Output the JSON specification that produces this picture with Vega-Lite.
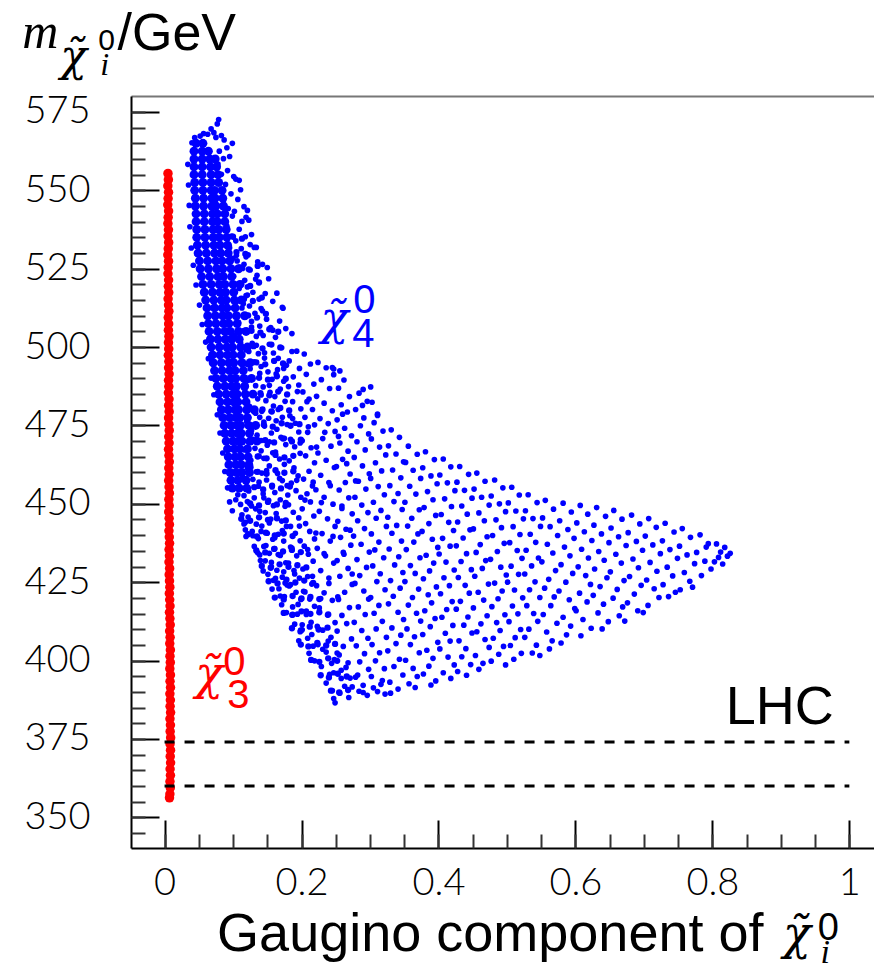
{
"$schema":"https://vega.github.io/schema/vega-lite/v6.json",
"width":743,"height":752,
"autosize":{"type":"none"},
"padding":{"left":131,"top":96,"right":0,"bottom":122},
"background":"white",
"config":{"view":{"stroke":null},"axis":{"grid":false}},
"datasets":{
"core":[
{"x":0.046,"y":565},{"x":0.056,"y":565},
{"x":0.043,"y":562.5},{"x":0.055,"y":562.5},{"x":0.064,"y":562.5},
{"x":0.043,"y":560},{"x":0.055,"y":560},{"x":0.066,"y":560},{"x":0.074,"y":560},
{"x":0.043,"y":557.5},{"x":0.055,"y":557.5},{"x":0.067,"y":557.5},{"x":0.076,"y":557.5},
{"x":0.043,"y":555},{"x":0.055,"y":555},{"x":0.068,"y":555},{"x":0.078,"y":555},
{"x":0.044,"y":552.5},{"x":0.056,"y":552.5},{"x":0.068,"y":552.5},{"x":0.079,"y":552.5},
{"x":0.044,"y":550},{"x":0.056,"y":550},{"x":0.068,"y":550},{"x":0.073,"y":550},{"x":0.084,"y":550},
{"x":0.045,"y":547.5},{"x":0.057,"y":547.5},{"x":0.069,"y":547.5},{"x":0.074,"y":547.5},{"x":0.085,"y":547.5},
{"x":0.045,"y":545},{"x":0.057,"y":545},{"x":0.069,"y":545},{"x":0.075,"y":545},{"x":0.086,"y":545},
{"x":0.046,"y":542.5},{"x":0.058,"y":542.5},{"x":0.07,"y":542.5},{"x":0.077,"y":542.5},{"x":0.088,"y":542.5},
{"x":0.046,"y":540},{"x":0.058,"y":540},{"x":0.07,"y":540},{"x":0.077,"y":540},{"x":0.088,"y":540},
{"x":0.047,"y":537.5},{"x":0.059,"y":537.5},{"x":0.071,"y":537.5},{"x":0.079,"y":537.5},{"x":0.09,"y":537.5},
{"x":0.047,"y":535},{"x":0.059,"y":535},{"x":0.071,"y":535},{"x":0.08,"y":535},{"x":0.091,"y":535},
{"x":0.048,"y":532.5},{"x":0.06,"y":532.5},{"x":0.072,"y":532.5},{"x":0.081,"y":532.5},{"x":0.092,"y":532.5},
{"x":0.049,"y":530},{"x":0.061,"y":530},{"x":0.073,"y":530},{"x":0.082,"y":530},{"x":0.093,"y":530},
{"x":0.051,"y":527.5},{"x":0.063,"y":527.5},{"x":0.075,"y":527.5},{"x":0.084,"y":527.5},{"x":0.095,"y":527.5},
{"x":0.052,"y":525},{"x":0.064,"y":525},{"x":0.076,"y":525},{"x":0.085,"y":525},{"x":0.097,"y":525},{"x":0.108,"y":525},
{"x":0.054,"y":522.5},{"x":0.066,"y":522.5},{"x":0.078,"y":522.5},{"x":0.086,"y":522.5},{"x":0.098,"y":522.5},
{"x":0.056,"y":520},{"x":0.068,"y":520},{"x":0.08,"y":520},{"x":0.088,"y":520},{"x":0.1,"y":520},{"x":0.11,"y":520},
{"x":0.058,"y":517.5},{"x":0.07,"y":517.5},{"x":0.081,"y":517.5},{"x":0.089,"y":517.5},{"x":0.101,"y":517.5},
{"x":0.06,"y":515},{"x":0.072,"y":515},{"x":0.083,"y":515},{"x":0.09,"y":515},{"x":0.102,"y":515},{"x":0.112,"y":515},
{"x":0.062,"y":512.5},{"x":0.073,"y":512.5},{"x":0.084,"y":512.5},{"x":0.091,"y":512.5},{"x":0.103,"y":512.5},
{"x":0.063,"y":510},{"x":0.074,"y":510},{"x":0.085,"y":510},{"x":0.093,"y":510},{"x":0.105,"y":510},{"x":0.117,"y":510},
{"x":0.064,"y":507.5},{"x":0.075,"y":507.5},{"x":0.086,"y":507.5},{"x":0.094,"y":507.5},{"x":0.106,"y":507.5},
{"x":0.065,"y":505},{"x":0.077,"y":505},{"x":0.088,"y":505},{"x":0.096,"y":505},{"x":0.108,"y":505},{"x":0.119,"y":505},
{"x":0.067,"y":502.5},{"x":0.078,"y":502.5},{"x":0.089,"y":502.5},{"x":0.098,"y":502.5},{"x":0.109,"y":502.5},
{"x":0.068,"y":500},{"x":0.08,"y":500},{"x":0.091,"y":500},{"x":0.099,"y":500},{"x":0.111,"y":500},{"x":0.121,"y":500},
{"x":0.07,"y":497.5},{"x":0.081,"y":497.5},{"x":0.092,"y":497.5},{"x":0.1,"y":497.5},{"x":0.112,"y":497.5},
{"x":0.071,"y":495},{"x":0.083,"y":495},{"x":0.094,"y":495},{"x":0.101,"y":495},{"x":0.113,"y":495},{"x":0.125,"y":495},
{"x":0.073,"y":492.5},{"x":0.084,"y":492.5},{"x":0.095,"y":492.5},{"x":0.103,"y":492.5},{"x":0.115,"y":492.5},
{"x":0.075,"y":490},{"x":0.086,"y":490},{"x":0.097,"y":490},{"x":0.104,"y":490},{"x":0.116,"y":490},{"x":0.127,"y":490},
{"x":0.077,"y":487.5},{"x":0.088,"y":487.5},{"x":0.098,"y":487.5},{"x":0.105,"y":487.5},{"x":0.117,"y":487.5},
{"x":0.079,"y":485},{"x":0.09,"y":485},{"x":0.1,"y":485},{"x":0.106,"y":485},{"x":0.118,"y":485},{"x":0.129,"y":485},
{"x":0.081,"y":482.5},{"x":0.092,"y":482.5},{"x":0.101,"y":482.5},{"x":0.107,"y":482.5},{"x":0.119,"y":482.5},
{"x":0.083,"y":480},{"x":0.093,"y":480},{"x":0.103,"y":480},{"x":0.108,"y":480},{"x":0.12,"y":480},{"x":0.131,"y":480},
{"x":0.085,"y":477.5},{"x":0.095,"y":477.5},{"x":0.104,"y":477.5},{"x":0.11,"y":477.5},{"x":0.121,"y":477.5},
{"x":0.087,"y":475},{"x":0.097,"y":475},{"x":0.106,"y":475},{"x":0.111,"y":475},{"x":0.123,"y":475},{"x":0.133,"y":475},
{"x":0.088,"y":472.5},{"x":0.098,"y":472.5},{"x":0.107,"y":472.5},{"x":0.112,"y":472.5},{"x":0.124,"y":472.5},
{"x":0.09,"y":470},{"x":0.1,"y":470},{"x":0.108,"y":470},{"x":0.113,"y":470},{"x":0.125,"y":470},{"x":0.135,"y":470},
{"x":0.092,"y":467.5},{"x":0.102,"y":467.5},{"x":0.11,"y":467.5},{"x":0.121,"y":467.5},
{"x":0.093,"y":465},{"x":0.103,"y":465},{"x":0.111,"y":465},{"x":0.122,"y":465},
{"x":0.094,"y":462.5},{"x":0.104,"y":462.5},{"x":0.112,"y":462.5},{"x":0.123,"y":462.5},
{"x":0.096,"y":460},{"x":0.105,"y":460},{"x":0.113,"y":460},{"x":0.124,"y":460},
{"x":0.097,"y":457.5},{"x":0.107,"y":457.5},{"x":0.119,"y":457.5},
{"x":0.099,"y":455},{"x":0.109,"y":455},{"x":0.12,"y":455}
],
"mid":[
{"x":0.1,"y":535.2},{"x":0.113,"y":534.6},
{"x":0.105,"y":530.3},{"x":0.118,"y":529.7},
{"x":0.11,"y":525.4},{"x":0.123,"y":524.8},{"x":0.136,"y":525.9},
{"x":0.112,"y":520.2},{"x":0.125,"y":519.5},{"x":0.138,"y":520.6},
{"x":0.116,"y":515.3},{"x":0.129,"y":514.7},{"x":0.142,"y":515.8},
{"x":0.122,"y":510.1},{"x":0.135,"y":509.4},{"x":0.148,"y":510.6},
{"x":0.127,"y":505.2},{"x":0.14,"y":504.6},{"x":0.153,"y":505.7},{"x":0.166,"y":504.9},
{"x":0.13,"y":500.3},{"x":0.143,"y":499.6},{"x":0.156,"y":500.8},{"x":0.169,"y":499.9},
{"x":0.134,"y":495.1},{"x":0.147,"y":494.5},{"x":0.16,"y":495.6},{"x":0.173,"y":494.8},
{"x":0.138,"y":490.2},{"x":0.151,"y":489.6},{"x":0.164,"y":490.7},{"x":0.177,"y":489.9},
{"x":0.14,"y":485.3},{"x":0.153,"y":484.6},{"x":0.166,"y":485.8},{"x":0.179,"y":484.9},
{"x":0.143,"y":480.1},{"x":0.156,"y":479.5},{"x":0.169,"y":480.6},{"x":0.182,"y":479.8},
{"x":0.145,"y":475.2},{"x":0.158,"y":474.6},{"x":0.171,"y":475.7},{"x":0.184,"y":474.9},{"x":0.197,"y":475.4},
{"x":0.147,"y":470.3},{"x":0.16,"y":469.6},{"x":0.173,"y":470.8},{"x":0.186,"y":469.9},{"x":0.199,"y":470.5},
{"x":0.136,"y":465.1},{"x":0.149,"y":464.5},{"x":0.162,"y":465.6},{"x":0.175,"y":464.8},{"x":0.188,"y":465.3},
{"x":0.136,"y":460.2},{"x":0.149,"y":459.6},{"x":0.162,"y":460.7},{"x":0.175,"y":459.9},{"x":0.188,"y":460.4},
{"x":0.131,"y":455.3},{"x":0.144,"y":454.6},{"x":0.157,"y":455.8},{"x":0.17,"y":454.9},{"x":0.183,"y":455.5},
{"x":0.125,"y":450.1},{"x":0.138,"y":449.5},{"x":0.151,"y":450.6},{"x":0.164,"y":449.8},{"x":0.177,"y":450.3},
{"x":0.112,"y":445.2},{"x":0.125,"y":444.6},{"x":0.138,"y":445.7},{"x":0.151,"y":444.9},{"x":0.164,"y":445.4},{"x":0.177,"y":444.7},
{"x":0.122,"y":440.3},{"x":0.135,"y":439.6},{"x":0.148,"y":440.8},{"x":0.161,"y":439.9},{"x":0.174,"y":440.5},{"x":0.187,"y":439.7},
{"x":0.134,"y":435.1},{"x":0.147,"y":434.5},{"x":0.16,"y":435.6},{"x":0.173,"y":434.8},{"x":0.186,"y":435.3},{"x":0.199,"y":434.6},
{"x":0.142,"y":430.2},{"x":0.155,"y":429.6},{"x":0.168,"y":430.7},{"x":0.181,"y":429.9},{"x":0.194,"y":430.4},{"x":0.207,"y":429.7},
{"x":0.152,"y":425.3},{"x":0.165,"y":424.6},{"x":0.178,"y":425.8},{"x":0.191,"y":424.9},{"x":0.204,"y":425.5},{"x":0.217,"y":424.8},
{"x":0.161,"y":420.1},{"x":0.174,"y":419.5},{"x":0.187,"y":420.6},{"x":0.2,"y":419.8},{"x":0.213,"y":420.3},{"x":0.226,"y":419.6},
{"x":0.174,"y":415.2},{"x":0.187,"y":414.6},{"x":0.2,"y":415.7},{"x":0.213,"y":414.9},{"x":0.226,"y":415.4},{"x":0.239,"y":414.7},
{"x":0.186,"y":410.3},{"x":0.199,"y":409.6},{"x":0.212,"y":410.8},{"x":0.225,"y":409.9},{"x":0.238,"y":410.5},
{"x":0.199,"y":405.1},{"x":0.21,"y":404.5},{"x":0.223,"y":405.6},{"x":0.236,"y":404.8},{"x":0.249,"y":405.3},
{"x":0.214,"y":400.2},{"x":0.226,"y":399.6},{"x":0.239,"y":400.7},{"x":0.252,"y":399.9},
{"x":0.228,"y":395.3},{"x":0.24,"y":394.6},{"x":0.253,"y":395.8},{"x":0.266,"y":394.9},
{"x":0.243,"y":390.4},{"x":0.255,"y":389.8},{"x":0.268,"y":390.6}
],
"blue":[
{"x":0.034,"y":558.3},{"x":0.035,"y":551.7},{"x":0.036,"y":545.2},{"x":0.037,"y":538.4},{"x":0.039,"y":531.6},{"x":0.042,"y":526.1},{"x":0.046,"y":519.8},{"x":0.051,"y":513.4},{"x":0.055,"y":507.2},{"x":0.06,"y":501.6},{"x":0.064,"y":496.3},{"x":0.068,"y":490.1},{"x":0.072,"y":484.8},{"x":0.077,"y":478.4},{"x":0.081,"y":472.6},{"x":0.085,"y":466.2},{"x":0.088,"y":460.3},{"x":0.092,"y":455.1},{"x":0.095,"y":450.6},{"x":0.099,"y":447.8},
{"x":0.079,"y":572.6},{"x":0.077,"y":571.2},{"x":0.068,"y":569.6},{"x":0.072,"y":568.4},{"x":0.063,"y":567.9},{"x":0.075,"y":566.9},{"x":0.083,"y":567.5},{"x":0.087,"y":566.1},{"x":0.091,"y":563.6},{"x":0.08,"y":562.5},{"x":0.086,"y":560.1},{"x":0.095,"y":560.8},{"x":0.078,"y":558.4},{"x":0.092,"y":556.3},{"x":0.083,"y":555.1},{"x":0.101,"y":554.4},{"x":0.089,"y":551.9},{"x":0.097,"y":548.9},{"x":0.086,"y":546.7},{"x":0.093,"y":544.2},{"x":0.099,"y":541.8},{"x":0.091,"y":538.6},{"x":0.098,"y":535.4},{"x":0.095,"y":531.7},{"x":0.1,"y":528.3},{"x":0.097,"y":524.8},{"x":0.044,"y":566.8},{"x":0.052,"y":567.3},{"x":0.057,"y":568.1},{"x":0.04,"y":565.2},
{"x":0.247,"y":493},{"x":0.256,"y":492.4},{"x":0.29,"y":486.5},{"x":0.172,"y":512.7},{"x":0.301,"y":487.3},{"x":0.245,"y":493.5},{"x":0.289,"y":481.4},{"x":0.311,"y":478.2},
{"x":0.15,"y":525.4},{"x":0.134,"y":531.8},{"x":0.119,"y":541.4},{"x":0.109,"y":553.2},{"x":0.099,"y":565},{"x":0.121,"y":543.6},
{"x":0.104,"y":553.6},{"x":0.111,"y":550.2},{"x":0.107,"y":547.1},{"x":0.116,"y":544.8},{"x":0.102,"y":543.3},{"x":0.113,"y":540.1},{"x":0.109,"y":537.6},{"x":0.118,"y":535.2},{"x":0.104,"y":533.9},{"x":0.112,"y":531.4},{"x":0.119,"y":528.8},{"x":0.106,"y":527.5},{"x":0.114,"y":525.1},{"x":0.101,"y":522.6},{"x":0.117,"y":521.3},{"x":0.109,"y":518.7},{"x":0.119,"y":516.4},{"x":0.104,"y":514.2},{"x":0.113,"y":512.5},{"x":0.118,"y":509.6},{"x":0.108,"y":507.9},{"x":0.116,"y":505.3},{"x":0.102,"y":503.8},{"x":0.111,"y":501.4},{"x":0.119,"y":499.1},{"x":0.117,"y":494.7},{"x":0.119,"y":489.6},{"x":0.118,"y":484.2},{"x":0.119,"y":479.8},{"x":0.116,"y":452.6},{"x":0.104,"y":451.3},{"x":0.111,"y":449.8},{"x":0.119,"y":448.2},{"x":0.107,"y":452.9},{"x":0.113,"y":446.5},{"x":0.118,"y":444.1},{"x":0.118,"y":441.7},{"x":0.119,"y":439.6},
{"x":0.123,"y":540.5},{"x":0.127,"y":535.9},{"x":0.131,"y":531.8},{"x":0.122,"y":529.4},{"x":0.136,"y":527.2},{"x":0.125,"y":524.6},{"x":0.133,"y":521.7},{"x":0.121,"y":519.2},{"x":0.129,"y":517.5},{"x":0.138,"y":515.3},{"x":0.124,"y":513.1},{"x":0.132,"y":510.8},{"x":0.127,"y":508.2},{"x":0.139,"y":506.7},{"x":0.121,"y":505.1},{"x":0.134,"y":503.4},{"x":0.128,"y":501.2},{"x":0.123,"y":498.6},{"x":0.137,"y":497.9},{"x":0.131,"y":495.3},{"x":0.125,"y":493.1},{"x":0.139,"y":491.6},{"x":0.122,"y":489.4},{"x":0.133,"y":487.7},{"x":0.128,"y":485.2},{"x":0.136,"y":483.5},{"x":0.124,"y":481.1},{"x":0.131,"y":479.3},{"x":0.139,"y":477.6},{"x":0.121,"y":475.8},{"x":0.127,"y":473.4},{"x":0.135,"y":471.9},{"x":0.123,"y":469.5},{"x":0.132,"y":467.7},{"x":0.138,"y":465.2},{"x":0.126,"y":463.9},{"x":0.121,"y":461.4},{"x":0.134,"y":460.2},{"x":0.129,"y":457.8},{"x":0.137,"y":455.6},{"x":0.123,"y":454.1},{"x":0.131,"y":451.9},{"x":0.127,"y":449.3},{"x":0.139,"y":447.6},{"x":0.122,"y":445.8},{"x":0.134,"y":443.5},{"x":0.128,"y":441.2},{"x":0.137,"y":438.9},{"x":0.131,"y":436.4},{"x":0.139,"y":433.7},{"x":0.14,"y":431.9},
{"x":0.143,"y":526.4},{"x":0.152,"y":521.8},{"x":0.147,"y":517.1},{"x":0.158,"y":514.6},{"x":0.141,"y":512.3},{"x":0.149,"y":508.9},{"x":0.155,"y":506.2},{"x":0.144,"y":503.7},{"x":0.153,"y":500.9},{"x":0.159,"y":498.1},{"x":0.146,"y":496.5},{"x":0.141,"y":493.8},{"x":0.151,"y":492.1},{"x":0.157,"y":489.7},{"x":0.144,"y":487.3},{"x":0.154,"y":485.6},{"x":0.148,"y":482.9},{"x":0.159,"y":481.2},{"x":0.142,"y":479.5},{"x":0.152,"y":477.3},{"x":0.146,"y":474.8},{"x":0.156,"y":472.6},{"x":0.141,"y":470.2},{"x":0.15,"y":468.7},{"x":0.158,"y":466.3},{"x":0.145,"y":464.5},{"x":0.153,"y":462.1},{"x":0.142,"y":459.8},{"x":0.149,"y":457.6},{"x":0.157,"y":455.4},{"x":0.144,"y":453.2},{"x":0.152,"y":451.1},{"x":0.159,"y":449.4},{"x":0.147,"y":447.2},{"x":0.155,"y":445.1},{"x":0.142,"y":442.9},{"x":0.15,"y":440.6},{"x":0.158,"y":438.7},{"x":0.145,"y":436.4},{"x":0.153,"y":434.2},{"x":0.147,"y":431.8},{"x":0.156,"y":429.9},{"x":0.151,"y":427.5},{"x":0.159,"y":425.6},{"x":0.157,"y":422.8},
{"x":0.164,"y":517.2},{"x":0.173,"y":512.4},{"x":0.168,"y":508.3},{"x":0.177,"y":505.9},{"x":0.162,"y":503.1},{"x":0.171,"y":499.8},{"x":0.166,"y":496.4},{"x":0.178,"y":494.2},{"x":0.163,"y":491.5},{"x":0.174,"y":489.1},{"x":0.169,"y":486.6},{"x":0.161,"y":484.2},{"x":0.176,"y":482.7},{"x":0.166,"y":480.1},{"x":0.172,"y":477.6},{"x":0.179,"y":475.3},{"x":0.164,"y":473.8},{"x":0.17,"y":471.2},{"x":0.177,"y":468.9},{"x":0.162,"y":466.5},{"x":0.168,"y":464.3},{"x":0.175,"y":462.6},{"x":0.165,"y":459.7},{"x":0.172,"y":457.4},{"x":0.179,"y":455.8},{"x":0.161,"y":453.6},{"x":0.169,"y":451.3},{"x":0.176,"y":449.2},{"x":0.163,"y":446.9},{"x":0.171,"y":444.5},{"x":0.178,"y":442.8},{"x":0.166,"y":440.3},{"x":0.174,"y":438.1},{"x":0.161,"y":435.7},{"x":0.169,"y":433.5},{"x":0.177,"y":431.2},{"x":0.164,"y":428.8},{"x":0.172,"y":426.6},{"x":0.179,"y":424.1},{"x":0.167,"y":422.9},{"x":0.175,"y":420.4},{"x":0.171,"y":417.8},{"x":0.178,"y":415.3},
{"x":0.186,"y":504.3},{"x":0.193,"y":498.7},{"x":0.182,"y":495.6},{"x":0.197,"y":493.2},{"x":0.188,"y":490.5},{"x":0.181,"y":487.4},{"x":0.194,"y":485.8},{"x":0.187,"y":482.6},{"x":0.199,"y":480.3},{"x":0.183,"y":478.1},{"x":0.191,"y":475.7},{"x":0.196,"y":472.9},{"x":0.184,"y":470.6},{"x":0.19,"y":468.2},{"x":0.198,"y":466.1},{"x":0.182,"y":463.7},{"x":0.189,"y":461.5},{"x":0.195,"y":458.9},{"x":0.185,"y":456.6},{"x":0.192,"y":454.2},{"x":0.199,"y":452.1},{"x":0.181,"y":449.7},{"x":0.188,"y":447.3},{"x":0.196,"y":445.5},{"x":0.184,"y":442.8},{"x":0.191,"y":440.6},{"x":0.198,"y":438.2},{"x":0.186,"y":435.9},{"x":0.193,"y":433.4},{"x":0.181,"y":431.1},{"x":0.189,"y":428.7},{"x":0.197,"y":426.3},{"x":0.184,"y":424.2},{"x":0.192,"y":421.8},{"x":0.199,"y":419.5},{"x":0.187,"y":417.1},{"x":0.194,"y":414.8},{"x":0.19,"y":411.6},{"x":0.198,"y":409.2},{"x":0.196,"y":406.3},
{"x":0.204,"y":497.8},{"x":0.213,"y":494.6},{"x":0.207,"y":491.3},{"x":0.218,"y":488.2},{"x":0.202,"y":485.7},{"x":0.211,"y":483.4},{"x":0.216,"y":480.1},{"x":0.205,"y":477.6},{"x":0.219,"y":475.2},{"x":0.209,"y":472.8},{"x":0.201,"y":470.1},{"x":0.214,"y":467.9},{"x":0.206,"y":465.3},{"x":0.219,"y":463.1},{"x":0.211,"y":460.4},{"x":0.203,"y":457.9},{"x":0.216,"y":455.7},{"x":0.208,"y":453.2},{"x":0.213,"y":450.6},{"x":0.201,"y":448.4},{"x":0.218,"y":446.1},{"x":0.206,"y":443.7},{"x":0.212,"y":441.2},{"x":0.219,"y":438.8},{"x":0.204,"y":436.5},{"x":0.21,"y":433.9},{"x":0.217,"y":431.7},{"x":0.202,"y":429.2},{"x":0.209,"y":426.8},{"x":0.215,"y":424.4},{"x":0.205,"y":421.9},{"x":0.212,"y":419.6},{"x":0.219,"y":417.3},{"x":0.207,"y":414.7},{"x":0.214,"y":412.2},{"x":0.201,"y":409.8},{"x":0.209,"y":407.1},{"x":0.217,"y":404.6},{"x":0.211,"y":402.3},{"x":0.219,"y":399.9},
{"x":0.224,"y":495.1},{"x":0.236,"y":493.4},{"x":0.247,"y":491.2},{"x":0.229,"y":489.6},{"x":0.241,"y":486.8},{"x":0.222,"y":484.3},{"x":0.233,"y":482.1},{"x":0.245,"y":479.7},{"x":0.227,"y":477.2},{"x":0.239,"y":475.6},{"x":0.249,"y":473.1},{"x":0.231,"y":470.8},{"x":0.243,"y":468.4},{"x":0.224,"y":466.2},{"x":0.236,"y":463.9},{"x":0.248,"y":461.6},{"x":0.228,"y":459.1},{"x":0.24,"y":456.8},{"x":0.221,"y":454.5},{"x":0.233,"y":452.1},{"x":0.246,"y":449.9},{"x":0.226,"y":447.6},{"x":0.238,"y":445.2},{"x":0.249,"y":442.8},{"x":0.23,"y":440.5},{"x":0.242,"y":438.1},{"x":0.223,"y":435.8},{"x":0.235,"y":433.4},{"x":0.247,"y":431.1},{"x":0.228,"y":428.7},{"x":0.24,"y":426.3},{"x":0.222,"y":423.9},{"x":0.233,"y":421.6},{"x":0.245,"y":419.2},{"x":0.226,"y":416.8},{"x":0.238,"y":414.5},{"x":0.249,"y":412.1},{"x":0.231,"y":409.7},{"x":0.243,"y":407.4},{"x":0.224,"y":405.1},{"x":0.236,"y":402.7},{"x":0.248,"y":400.3},{"x":0.229,"y":398.1},{"x":0.241,"y":395.6},{"x":0.236,"y":392.8},{"x":0.245,"y":390.4},{"x":0.247,"y":387.9},{"x":0.249,"y":386.5},
{"x":0.105,"y":529.3},{"x":0.116,"y":526.4},{"x":0.125,"y":532.7},{"x":0.108,"y":520.1},{"x":0.121,"y":516.6},{"x":0.135,"y":522.9},{"x":0.103,"y":509.7},{"x":0.115,"y":513.8},{"x":0.127,"y":506.4},{"x":0.143,"y":511.6},{"x":0.11,"y":497.2},{"x":0.121,"y":494.5},{"x":0.134,"y":500.6},{"x":0.146,"y":498.2},{"x":0.116,"y":486.9},{"x":0.127,"y":490.3},{"x":0.141,"y":484.7},{"x":0.153,"y":487.8},{"x":0.12,"y":476.3},{"x":0.133,"y":478.9},{"x":0.145,"y":476.1},{"x":0.157,"y":479.4},{"x":0.117,"y":467.2},{"x":0.129,"y":470.6},{"x":0.141,"y":466.9},{"x":0.153,"y":469.8},{"x":0.114,"y":458.4},{"x":0.126,"y":461.7},{"x":0.138,"y":456.9},{"x":0.149,"y":460.6},{"x":0.11,"y":455.3},{"x":0.121,"y":450.7},{"x":0.133,"y":448.4},{"x":0.145,"y":451.9},{"x":0.116,"y":443.6},{"x":0.129,"y":439.8},{"x":0.141,"y":441.2},{"x":0.153,"y":443.9},{"x":0.136,"y":434.4},{"x":0.148,"y":436.7},{"x":0.161,"y":439.2},{"x":0.144,"y":428.6},{"x":0.156,"y":431.3},{"x":0.166,"y":433.8},{"x":0.162,"y":426.2},{"x":0.174,"y":428.3},{"x":0.169,"y":420.6},{"x":0.182,"y":423.8},{"x":0.186,"y":414.5},{"x":0.195,"y":417.9},{"x":0.201,"y":411.4},{"x":0.207,"y":415.8},{"x":0.215,"y":408.3},{"x":0.223,"y":410.9},{"x":0.231,"y":403.6},{"x":0.239,"y":406.2},{"x":0.244,"y":399.1},{"x":0.252,"y":402.4},{"x":0.258,"y":394.3},{"x":0.265,"y":397.8},{"x":0.274,"y":391.6},{"x":0.282,"y":395.4},{"x":0.247,"y":396.1},{"x":0.29,"y":389.8},{"x":0.305,"y":391.3},{"x":0.318,"y":393.6},{"x":0.33,"y":389.6},
{"x":0.163,"y":476.5},{"x":0.175,"y":470.9},{"x":0.187,"y":477.2},{"x":0.198,"y":469.4},{"x":0.21,"y":474.6},{"x":0.222,"y":468.1},{"x":0.234,"y":472.8},{"x":0.168,"y":458.1},{"x":0.18,"y":452.8},{"x":0.193,"y":457.5},{"x":0.205,"y":451.2},{"x":0.217,"y":456.9},{"x":0.229,"y":450.4},{"x":0.242,"y":455.8},{"x":0.172,"y":441.5},{"x":0.184,"y":436.2},{"x":0.197,"y":442.9},{"x":0.209,"y":435.4},{"x":0.221,"y":440.7},{"x":0.233,"y":434.1},{"x":0.246,"y":439.6},{"x":0.176,"y":424.7},{"x":0.19,"y":427.6},{"x":0.203,"y":422.1},{"x":0.216,"y":426.9},{"x":0.228,"y":419.8},{"x":0.24,"y":424.6},{"x":0.253,"y":420.3},{"x":0.262,"y":433.9},{"x":0.274,"y":427.6},{"x":0.259,"y":448.5},{"x":0.271,"y":441.6},{"x":0.266,"y":462.8},{"x":0.279,"y":457.3},{"x":0.254,"y":471.5},{"x":0.26,"y":478.6},{"x":0.196,"y":487.9},{"x":0.208,"y":482.6},{"x":0.174,"y":493.2},{"x":0.186,"y":498.6},{"x":0.158,"y":505.4},{"x":0.165,"y":492.8},
{"x":0.262,"y":489.5},{"x":0.254,"y":486.9},{"x":0.27,"y":484.2},{"x":0.258,"y":481.6},{"x":0.267,"y":479.3},{"x":0.252,"y":476.8},{"x":0.263,"y":474.1},{"x":0.273,"y":471.7},{"x":0.256,"y":469.4},{"x":0.268,"y":466.8},{"x":0.26,"y":464.2},{"x":0.251,"y":461.9},{"x":0.271,"y":459.5},{"x":0.264,"y":456.8},{"x":0.255,"y":454.4},{"x":0.269,"y":451.9},{"x":0.259,"y":449.3},{"x":0.274,"y":446.8},{"x":0.253,"y":444.4},{"x":0.265,"y":441.9},{"x":0.257,"y":439.3},{"x":0.272,"y":436.8},{"x":0.261,"y":434.5},{"x":0.252,"y":431.9},{"x":0.268,"y":429.4},{"x":0.256,"y":426.9},{"x":0.274,"y":424.3},{"x":0.263,"y":421.8},{"x":0.254,"y":419.5},{"x":0.27,"y":416.9},{"x":0.259,"y":414.4},{"x":0.266,"y":411.8},{"x":0.252,"y":409.4},{"x":0.273,"y":406.9},{"x":0.261,"y":404.5},{"x":0.255,"y":401.8},{"x":0.268,"y":399.3},{"x":0.258,"y":396.9},{"x":0.271,"y":394.4},{"x":0.263,"y":391.8},{"x":0.256,"y":389.6},{"x":0.269,"y":388.2},
{"x":0.284,"y":485.3},{"x":0.296,"y":482.7},{"x":0.279,"y":480.1},{"x":0.291,"y":477.4},{"x":0.286,"y":474.9},{"x":0.298,"y":472.3},{"x":0.281,"y":469.8},{"x":0.293,"y":467.2},{"x":0.277,"y":464.8},{"x":0.289,"y":462.1},{"x":0.299,"y":459.6},{"x":0.283,"y":457.2},{"x":0.294,"y":454.7},{"x":0.278,"y":452.1},{"x":0.288,"y":449.6},{"x":0.297,"y":447.2},{"x":0.282,"y":444.6},{"x":0.292,"y":442.1},{"x":0.276,"y":439.7},{"x":0.287,"y":437.1},{"x":0.299,"y":434.6},{"x":0.281,"y":432.2},{"x":0.295,"y":429.7},{"x":0.285,"y":427.1},{"x":0.278,"y":424.6},{"x":0.291,"y":422.2},{"x":0.298,"y":419.6},{"x":0.283,"y":417.1},{"x":0.293,"y":414.7},{"x":0.277,"y":412.2},{"x":0.288,"y":409.6},{"x":0.297,"y":407.1},{"x":0.28,"y":404.7},{"x":0.292,"y":402.2},{"x":0.285,"y":399.6},{"x":0.298,"y":397.2},{"x":0.279,"y":394.7},{"x":0.29,"y":392.1},{"x":0.284,"y":390.2},{"x":0.296,"y":388.9},
{"x":0.303,"y":482.4},{"x":0.311,"y":478.6},{"x":0.306,"y":475.9},{"x":0.319,"y":473.2},{"x":0.302,"y":470.7},{"x":0.314,"y":468.1},{"x":0.323,"y":465.6},{"x":0.308,"y":463.1},{"x":0.317,"y":460.5},{"x":0.301,"y":458.1},{"x":0.312,"y":455.5},{"x":0.321,"y":452.9},{"x":0.305,"y":450.5},{"x":0.316,"y":447.9},{"x":0.309,"y":445.4},{"x":0.324,"y":442.8},{"x":0.302,"y":440.4},{"x":0.313,"y":437.8},{"x":0.307,"y":435.3},{"x":0.32,"y":432.8},{"x":0.304,"y":430.2},{"x":0.315,"y":427.7},{"x":0.31,"y":425.2},{"x":0.322,"y":422.6},{"x":0.301,"y":420.1},{"x":0.313,"y":417.6},{"x":0.306,"y":415.1},{"x":0.318,"y":412.5},{"x":0.309,"y":410.1},{"x":0.324,"y":407.4},{"x":0.303,"y":405.1},{"x":0.314,"y":402.5},{"x":0.308,"y":399.9},{"x":0.321,"y":397.4},{"x":0.302,"y":394.9},{"x":0.316,"y":392.4},{"x":0.311,"y":390.1},{"x":0.322,"y":389.3},
{"x":0.331,"y":473.6},{"x":0.343,"y":471.2},{"x":0.327,"y":468.5},{"x":0.338,"y":465.9},{"x":0.349,"y":463.4},{"x":0.333,"y":460.8},{"x":0.345,"y":458.3},{"x":0.329,"y":455.8},{"x":0.341,"y":453.3},{"x":0.335,"y":450.7},{"x":0.347,"y":448.2},{"x":0.326,"y":445.7},{"x":0.339,"y":443.1},{"x":0.332,"y":440.6},{"x":0.346,"y":438.1},{"x":0.328,"y":435.6},{"x":0.342,"y":433.1},{"x":0.336,"y":430.5},{"x":0.348,"y":428.1},{"x":0.33,"y":425.5},{"x":0.344,"y":423.1},{"x":0.334,"y":420.5},{"x":0.327,"y":418.1},{"x":0.341,"y":415.4},{"x":0.349,"y":413.1},{"x":0.332,"y":410.4},{"x":0.345,"y":408.1},{"x":0.338,"y":405.4},{"x":0.326,"y":403.1},{"x":0.343,"y":400.4},{"x":0.335,"y":398.1},{"x":0.348,"y":395.4},{"x":0.329,"y":393.1},{"x":0.341,"y":390.9},
{"x":0.356,"y":468.4},{"x":0.369,"y":465.8},{"x":0.352,"y":463.2},{"x":0.363,"y":460.7},{"x":0.374,"y":458.1},{"x":0.358,"y":455.6},{"x":0.367,"y":453.1},{"x":0.351,"y":450.5},{"x":0.372,"y":448.1},{"x":0.361,"y":445.4},{"x":0.355,"y":442.9},{"x":0.37,"y":440.4},{"x":0.364,"y":437.8},{"x":0.353,"y":435.4},{"x":0.373,"y":432.8},{"x":0.359,"y":430.3},{"x":0.366,"y":427.8},{"x":0.351,"y":425.2},{"x":0.371,"y":422.8},{"x":0.362,"y":420.1},{"x":0.356,"y":417.7},{"x":0.368,"y":415.1},{"x":0.374,"y":412.6},{"x":0.354,"y":410.1},{"x":0.365,"y":407.6},{"x":0.359,"y":405.1},{"x":0.372,"y":402.5},{"x":0.352,"y":400.1},{"x":0.363,"y":397.5},{"x":0.369,"y":394.9},{"x":0.357,"y":392.6},{"x":0.366,"y":391.4},
{"x":0.381,"y":466.6},{"x":0.394,"y":464.1},{"x":0.377,"y":461.5},{"x":0.389,"y":458.9},{"x":0.398,"y":456.4},{"x":0.384,"y":453.9},{"x":0.392,"y":451.3},{"x":0.379,"y":448.8},{"x":0.396,"y":446.3},{"x":0.386,"y":443.7},{"x":0.376,"y":441.2},{"x":0.391,"y":438.7},{"x":0.399,"y":436.1},{"x":0.382,"y":433.6},{"x":0.393,"y":431.1},{"x":0.387,"y":428.6},{"x":0.378,"y":426.1},{"x":0.397,"y":423.5},{"x":0.385,"y":421},{"x":0.39,"y":418.4},{"x":0.38,"y":415.9},{"x":0.395,"y":413.4},{"x":0.388,"y":410.8},{"x":0.377,"y":408.3},{"x":0.399,"y":405.8},{"x":0.383,"y":403.3},{"x":0.392,"y":400.7},{"x":0.386,"y":398.2},{"x":0.378,"y":395.7},{"x":0.396,"y":393.5},{"x":0.389,"y":392.2},
{"x":0.407,"y":464.3},{"x":0.418,"y":461.8},{"x":0.402,"y":459.2},{"x":0.413,"y":456.7},{"x":0.424,"y":454.2},{"x":0.409,"y":451.6},{"x":0.419,"y":449.1},{"x":0.404,"y":446.6},{"x":0.415,"y":444.1},{"x":0.422,"y":441.5},{"x":0.406,"y":439},{"x":0.417,"y":436.5},{"x":0.401,"y":434},{"x":0.411,"y":431.4},{"x":0.423,"y":428.9},{"x":0.408,"y":426.4},{"x":0.416,"y":423.9},{"x":0.403,"y":421.3},{"x":0.42,"y":418.8},{"x":0.412,"y":416.3},{"x":0.405,"y":413.8},{"x":0.421,"y":411.2},{"x":0.41,"y":408.7},{"x":0.417,"y":406.2},{"x":0.402,"y":403.7},{"x":0.414,"y":401.1},{"x":0.423,"y":398.6},{"x":0.407,"y":396.1},{"x":0.418,"y":394.3},
{"x":0.431,"y":461.9},{"x":0.444,"y":459.4},{"x":0.427,"y":456.9},{"x":0.438,"y":454.3},{"x":0.449,"y":451.8},{"x":0.434,"y":449.3},{"x":0.442,"y":446.7},{"x":0.428,"y":444.2},{"x":0.446,"y":441.7},{"x":0.436,"y":439.1},{"x":0.426,"y":436.6},{"x":0.441,"y":434.1},{"x":0.433,"y":431.6},{"x":0.448,"y":429},{"x":0.429,"y":426.5},{"x":0.439,"y":424},{"x":0.445,"y":421.5},{"x":0.432,"y":418.9},{"x":0.426,"y":416.4},{"x":0.443,"y":413.9},{"x":0.437,"y":411.3},{"x":0.449,"y":408.8},{"x":0.43,"y":406.3},{"x":0.44,"y":403.8},{"x":0.434,"y":401.2},{"x":0.447,"y":398.7},{"x":0.428,"y":396.5},{"x":0.441,"y":395.3},
{"x":0.456,"y":459.8},{"x":0.468,"y":457.2},{"x":0.452,"y":454.7},{"x":0.463,"y":452.1},{"x":0.474,"y":449.6},{"x":0.459,"y":447.1},{"x":0.467,"y":444.6},{"x":0.451,"y":442},{"x":0.471,"y":439.5},{"x":0.461,"y":437},{"x":0.455,"y":434.5},{"x":0.469,"y":431.9},{"x":0.464,"y":429.4},{"x":0.453,"y":426.9},{"x":0.473,"y":424.4},{"x":0.458,"y":421.8},{"x":0.466,"y":419.3},{"x":0.451,"y":416.8},{"x":0.471,"y":414.3},{"x":0.462,"y":411.7},{"x":0.456,"y":409.2},{"x":0.468,"y":406.7},{"x":0.474,"y":404.2},{"x":0.454,"y":401.6},{"x":0.465,"y":399.1},{"x":0.459,"y":397.2},
{"x":0.482,"y":457.6},{"x":0.494,"y":455.1},{"x":0.477,"y":452.5},{"x":0.489,"y":450},{"x":0.498,"y":447.5},{"x":0.484,"y":444.9},{"x":0.492,"y":442.4},{"x":0.479,"y":439.9},{"x":0.496,"y":437.4},{"x":0.486,"y":434.8},{"x":0.476,"y":432.3},{"x":0.491,"y":429.8},{"x":0.499,"y":427.3},{"x":0.482,"y":424.7},{"x":0.493,"y":422.2},{"x":0.487,"y":419.7},{"x":0.478,"y":417.2},{"x":0.497,"y":414.6},{"x":0.485,"y":412.1},{"x":0.49,"y":409.6},{"x":0.48,"y":407.1},{"x":0.495,"y":404.5},{"x":0.488,"y":402},{"x":0.477,"y":399.8},{"x":0.498,"y":398.6},
{"x":0.507,"y":455.3},{"x":0.518,"y":452.8},{"x":0.502,"y":450.3},{"x":0.513,"y":447.7},{"x":0.524,"y":445.2},{"x":0.509,"y":442.7},{"x":0.519,"y":440.2},{"x":0.504,"y":437.6},{"x":0.515,"y":435.1},{"x":0.522,"y":432.6},{"x":0.506,"y":430.1},{"x":0.517,"y":427.5},{"x":0.501,"y":425},{"x":0.511,"y":422.5},{"x":0.523,"y":420},{"x":0.508,"y":417.4},{"x":0.516,"y":414.9},{"x":0.503,"y":412.4},{"x":0.52,"y":409.9},{"x":0.512,"y":407.3},{"x":0.505,"y":404.8},{"x":0.521,"y":402.3},{"x":0.51,"y":400.4},
{"x":0.531,"y":452.9},{"x":0.544,"y":450.4},{"x":0.527,"y":447.8},{"x":0.538,"y":445.3},{"x":0.549,"y":442.8},{"x":0.534,"y":440.3},{"x":0.542,"y":437.7},{"x":0.528,"y":435.2},{"x":0.546,"y":432.7},{"x":0.536,"y":430.2},{"x":0.526,"y":427.6},{"x":0.541,"y":425.1},{"x":0.533,"y":422.6},{"x":0.548,"y":420.1},{"x":0.529,"y":417.5},{"x":0.539,"y":415},{"x":0.545,"y":412.5},{"x":0.532,"y":410},{"x":0.526,"y":407.4},{"x":0.543,"y":404.9},{"x":0.537,"y":402.4},{"x":0.548,"y":401.6},
{"x":0.556,"y":451.1},{"x":0.568,"y":448.3},{"x":0.552,"y":445.5},{"x":0.563,"y":442.7},{"x":0.574,"y":439.9},{"x":0.559,"y":437.1},{"x":0.567,"y":434.3},{"x":0.551,"y":431.5},{"x":0.571,"y":428.7},{"x":0.561,"y":425.9},{"x":0.555,"y":423.1},{"x":0.569,"y":420.3},{"x":0.564,"y":417.5},{"x":0.553,"y":414.7},{"x":0.573,"y":411.9},{"x":0.558,"y":409.1},{"x":0.566,"y":406.3},{"x":0.562,"y":403.7},
{"x":0.582,"y":450.2},{"x":0.594,"y":447.4},{"x":0.577,"y":444.6},{"x":0.589,"y":441.8},{"x":0.598,"y":439},{"x":0.584,"y":436.2},{"x":0.592,"y":433.4},{"x":0.579,"y":430.6},{"x":0.596,"y":427.8},{"x":0.586,"y":425},{"x":0.576,"y":422.2},{"x":0.591,"y":419.4},{"x":0.599,"y":416.6},{"x":0.582,"y":413.8},{"x":0.593,"y":411},{"x":0.587,"y":408.2},{"x":0.579,"y":405.6},
{"x":0.607,"y":449.5},{"x":0.618,"y":446.7},{"x":0.602,"y":443.9},{"x":0.613,"y":441.1},{"x":0.624,"y":438.3},{"x":0.609,"y":435.5},{"x":0.619,"y":432.7},{"x":0.604,"y":429.9},{"x":0.615,"y":427.1},{"x":0.622,"y":424.3},{"x":0.606,"y":421.5},{"x":0.617,"y":418.7},{"x":0.601,"y":415.9},{"x":0.611,"y":413.1},{"x":0.623,"y":410.3},{"x":0.608,"y":407.9},
{"x":0.631,"y":448.8},{"x":0.644,"y":446},{"x":0.627,"y":443.2},{"x":0.638,"y":440.4},{"x":0.649,"y":437.6},{"x":0.634,"y":434.8},{"x":0.642,"y":432},{"x":0.628,"y":429.2},{"x":0.646,"y":426.4},{"x":0.636,"y":423.6},{"x":0.626,"y":420.8},{"x":0.641,"y":418},{"x":0.633,"y":415.2},{"x":0.648,"y":412.4},{"x":0.639,"y":410.1},
{"x":0.656,"y":447.9},{"x":0.668,"y":445.1},{"x":0.652,"y":442.3},{"x":0.663,"y":439.5},{"x":0.674,"y":436.7},{"x":0.659,"y":433.9},{"x":0.667,"y":431.1},{"x":0.651,"y":428.3},{"x":0.671,"y":425.5},{"x":0.661,"y":422.7},{"x":0.655,"y":419.9},{"x":0.669,"y":417.1},{"x":0.664,"y":414.3},{"x":0.672,"y":412.6},
{"x":0.682,"y":446.4},{"x":0.694,"y":443.6},{"x":0.677,"y":440.8},{"x":0.689,"y":438},{"x":0.698,"y":435.2},{"x":0.684,"y":432.4},{"x":0.692,"y":429.6},{"x":0.679,"y":426.8},{"x":0.696,"y":424},{"x":0.686,"y":421.2},{"x":0.676,"y":418.4},{"x":0.691,"y":415.9},{"x":0.699,"y":415.3},
{"x":0.707,"y":445.3},{"x":0.718,"y":442.5},{"x":0.702,"y":439.7},{"x":0.713,"y":436.9},{"x":0.724,"y":434.1},{"x":0.709,"y":431.3},{"x":0.719,"y":428.5},{"x":0.704,"y":425.7},{"x":0.715,"y":422.9},{"x":0.722,"y":420.1},{"x":0.706,"y":417.6},
{"x":0.731,"y":443.8},{"x":0.744,"y":441},{"x":0.727,"y":438.2},{"x":0.738,"y":435.4},{"x":0.749,"y":432.6},{"x":0.734,"y":429.8},{"x":0.742,"y":427},{"x":0.728,"y":424.2},{"x":0.746,"y":421.8},{"x":0.736,"y":420.4},
{"x":0.756,"y":442.1},{"x":0.768,"y":439.3},{"x":0.752,"y":436.5},{"x":0.763,"y":433.7},{"x":0.774,"y":430.9},{"x":0.759,"y":428.1},{"x":0.767,"y":425.3},{"x":0.771,"y":423.4},{"x":0.753,"y":422.6},
{"x":0.782,"y":440.1},{"x":0.794,"y":437.3},{"x":0.777,"y":434.5},{"x":0.789,"y":431.7},{"x":0.798,"y":429.2},{"x":0.784,"y":427.1},{"x":0.791,"y":436.2},
{"x":0.806,"y":437.2},{"x":0.812,"y":434.6},{"x":0.803,"y":431.5},{"x":0.818,"y":436.1},{"x":0.822,"y":433.3},{"x":0.826,"y":434.2},{"x":0.815,"y":430.8},{"x":0.809,"y":432.9}
],
"red":[
{"x":0.005,"y":555.4},{"x":0.0056,"y":553.4},{"x":0.0048,"y":551.4},{"x":0.0058,"y":549.4},{"x":0.0052,"y":547.4},{"x":0.0047,"y":545.4},{"x":0.0059,"y":543.4},{"x":0.0053,"y":541.4},{"x":0.0049,"y":539.4},{"x":0.0057,"y":537.4},{"x":0.0051,"y":535.4},{"x":0.006,"y":533.4},{"x":0.0054,"y":531.4},{"x":0.0048,"y":529.4},{"x":0.0058,"y":527.4},{"x":0.0053,"y":525.4},{"x":0.005,"y":523.4},{"x":0.0059,"y":521.4},{"x":0.0055,"y":519.4},{"x":0.0061,"y":517.4},{"x":0.0052,"y":515.4},{"x":0.0058,"y":513.4},{"x":0.0063,"y":511.4},{"x":0.0054,"y":509.4},{"x":0.006,"y":507.4},{"x":0.0056,"y":505.4},{"x":0.0064,"y":503.4},{"x":0.0057,"y":501.4},{"x":0.0061,"y":499.4},{"x":0.0055,"y":497.4},{"x":0.0063,"y":495.4},{"x":0.0059,"y":493.4},{"x":0.0066,"y":491.4},{"x":0.0058,"y":489.4},{"x":0.0062,"y":487.4},{"x":0.0056,"y":485.4},{"x":0.0065,"y":483.4},{"x":0.006,"y":481.4},{"x":0.0067,"y":479.4},{"x":0.0059,"y":477.4},{"x":0.0063,"y":475.4},{"x":0.0068,"y":473.4},{"x":0.0061,"y":471.4},{"x":0.0066,"y":469.4},{"x":0.0058,"y":467.4},{"x":0.0064,"y":465.4},{"x":0.0069,"y":463.4},{"x":0.0062,"y":461.4},{"x":0.0067,"y":459.4},{"x":0.006,"y":457.4},{"x":0.0066,"y":455.4},{"x":0.007,"y":453.4},{"x":0.0063,"y":451.4},{"x":0.0068,"y":449.4},{"x":0.0061,"y":447.4},{"x":0.0067,"y":445.4},{"x":0.0071,"y":443.4},{"x":0.0064,"y":441.4},{"x":0.0069,"y":439.4},{"x":0.0073,"y":437.4},{"x":0.0066,"y":435.4},{"x":0.0071,"y":433.4},{"x":0.0065,"y":431.4},{"x":0.0074,"y":429.4},{"x":0.0068,"y":427.4},{"x":0.0072,"y":425.4},{"x":0.0077,"y":423.4},{"x":0.007,"y":421.4},{"x":0.0075,"y":419.4},{"x":0.008,"y":417.4},{"x":0.0072,"y":415.4},{"x":0.0078,"y":413.4},{"x":0.0083,"y":411.4},{"x":0.0074,"y":409.4},{"x":0.0081,"y":407.4},{"x":0.0076,"y":405.4},{"x":0.0085,"y":403.4},{"x":0.0079,"y":401.4},{"x":0.0084,"y":399.4},{"x":0.0077,"y":397.4},{"x":0.0086,"y":395.4},{"x":0.008,"y":393.4},{"x":0.0087,"y":391.4},{"x":0.0078,"y":389.4},{"x":0.0085,"y":387.4},{"x":0.0081,"y":385.4},{"x":0.0088,"y":383.4},{"x":0.0079,"y":381.4},{"x":0.0086,"y":379.4},{"x":0.0082,"y":377.4},{"x":0.0089,"y":375.4},{"x":0.008,"y":373.4},{"x":0.0087,"y":371.4},{"x":0.0083,"y":369.4},{"x":0.0088,"y":367.4},{"x":0.0081,"y":365.4},{"x":0.0086,"y":363.4},{"x":0.0079,"y":361.4},{"x":0.0084,"y":359.4},{"x":0.0078,"y":357.4},{"x":0.0072,"y":356.2}
],
"lines":[{"m":374},{"m":360}]
},
"resolve":{"axis":{"x":"independent","y":"independent"}},
"layer":[
{"data":{"name":"core"},
 "mark":{"type":"circle","color":"#0000ff","size":80,"opacity":1},
 "encoding":{
  "x":{"field":"x","type":"quantitative","scale":{"domain":[-0.049,1.036],"nice":false,"zero":false},
   "axis":{"orient":"bottom","values":[0,0.2,0.4,0.6,0.8,1],"format":"~g","ticks":false,"tickSize":0,"domain":true,"domainColor":"#000","domainWidth":2,"labelFont":"Lato","labelFontWeight":300,"labelFontSize":38,"labelColor":"#000","labelPadding":16,"labelFlush":false,"labelOverlap":false,"title":"Gaugino component of","titleFont":"Liberation Sans","titleFontSize":54,"titleFontWeight":"normal","titleColor":"#000","titleX":632,"titleY":102,"titleAlign":"right","titleBaseline":"alphabetic","titleAngle":0}},
  "y":{"field":"y","type":"quantitative","scale":{"domain":[340.2,580.1],"nice":false,"zero":false},
   "axis":{"orient":"left","values":[350,375,400,425,450,475,500,525,550,575],"ticks":false,"tickSize":0,"domain":true,"domainColor":"#000","domainWidth":2,"labelFont":"Lato","labelFontWeight":300,"labelFontSize":38,"labelColor":"#000","labelPadding":41,"labelFlush":false,"labelOverlap":false,"title":"/GeV","titleFont":"Liberation Sans","titleFontSize":52,"titleFontWeight":"normal","titleColor":"#000","titleAngle":0,"titleAlign":"left","titleBaseline":"alphabetic","titleX":-14,"titleY":-47}}
 }},
{"data":{"name":"mid"},
 "mark":{"type":"circle","color":"#0000ff","size":40,"opacity":1},
 "encoding":{
  "x":{"field":"x","type":"quantitative","axis":null},
  "y":{"field":"y","type":"quantitative","axis":null}
 }},
{"data":{"name":"blue"},
 "mark":{"type":"circle","color":"#0000ff","size":32,"opacity":1},
 "encoding":{
  "x":{"field":"x","type":"quantitative","axis":{"orient":"bottom","offset":-28,"values":[0,0.2,0.4,0.6,0.8,1],"domain":false,"labels":false,"ticks":true,"tickSize":28,"tickWidth":2,"tickColor":"#000","title":null}},
  "y":{"field":"y","type":"quantitative","axis":{"orient":"left","offset":-28,"values":[350,375,400,425,450,475,500,525,550,575],"domain":false,"labels":false,"ticks":true,"tickSize":28,"tickWidth":2,"tickColor":"#000","title":null}}
 }},
{"data":{"name":"red"},
 "mark":{"type":"circle","color":"#ff0000","size":90,"opacity":1},
 "encoding":{
  "x":{"field":"x","type":"quantitative","axis":{"orient":"bottom","offset":-14,"values":[0,0.05,0.1,0.15,0.2,0.25,0.3,0.35,0.4,0.45,0.5,0.55,0.6,0.65,0.7,0.75,0.8,0.85,0.9,0.95,1],"domain":false,"labels":false,"ticks":true,"tickSize":14,"tickWidth":2,"tickColor":"#333","title":null}},
  "y":{"field":"y","type":"quantitative","axis":{"orient":"left","offset":-14,"values":[345,350,355,360,365,370,375,380,385,390,395,400,405,410,415,420,425,430,435,440,445,450,455,460,465,470,475,480,485,490,495,500,505,510,515,520,525,530,535,540,545,550,555,560,565,570,575],"domain":false,"labels":false,"ticks":true,"tickSize":14,"tickWidth":2,"tickColor":"#333","title":null}}
 }},
{"data":{"name":"lines"},
 "mark":{"type":"rule","color":"#000","strokeWidth":3,"strokeDash":[10,10]},
 "encoding":{
  "y":{"field":"m","type":"quantitative","axis":null},
  "x":{"datum":0,"type":"quantitative","axis":{"orient":"top","domain":true,"domainColor":"#777","domainWidth":2,"ticks":false,"labels":false,"title":null}},
  "x2":{"datum":1}
 }},
{"data":{"values":[{"t":"LHC"}]},
 "mark":{"type":"text","font":"Liberation Sans","fontSize":54,"align":"right","baseline":"alphabetic","color":"#000"},
 "encoding":{"x":{"datum":0.9774,"type":"quantitative","axis":null},"y":{"datum":379.7,"type":"quantitative","axis":null},"text":{"field":"t"}}},
{"data":{"values":[{"t":"χ̃"}]},
 "mark":{"type":"text","font":"DejaVu Serif","fontStyle":"italic","fontSize":46,"align":"left","baseline":"alphabetic","color":"#0000ff"},
 "encoding":{"x":{"datum":0.2277,"type":"quantitative","axis":null},"y":{"datum":504.1,"type":"quantitative","axis":null},"text":{"field":"t"}}},
{"data":{"values":[{"t":"0"}]},
 "mark":{"type":"text","font":"Liberation Sans","fontSize":40,"align":"left","baseline":"alphabetic","color":"#0000ff"},
 "encoding":{"x":{"datum":0.2755,"type":"quantitative","axis":null},"y":{"datum":510.8,"type":"quantitative","axis":null},"text":{"field":"t"}}},
{"data":{"values":[{"t":"4"}]},
 "mark":{"type":"text","font":"Liberation Sans","fontSize":40,"align":"left","baseline":"alphabetic","color":"#0000ff"},
 "encoding":{"x":{"datum":0.274,"type":"quantitative","axis":null},"y":{"datum":499.95,"type":"quantitative","axis":null},"text":{"field":"t"}}},
{"data":{"values":[{"t":"χ̃"}]},
 "mark":{"type":"text","font":"DejaVu Serif","fontStyle":"italic","fontSize":46,"align":"left","baseline":"alphabetic","color":"#ff0000"},
 "encoding":{"x":{"datum":0.0448,"type":"quantitative","axis":null},"y":{"datum":390.9,"type":"quantitative","axis":null},"text":{"field":"t"}}},
{"data":{"values":[{"t":"0"}]},
 "mark":{"type":"text","font":"Liberation Sans","fontSize":40,"align":"left","baseline":"alphabetic","color":"#ff0000"},
 "encoding":{"x":{"datum":0.0857,"type":"quantitative","axis":null},"y":{"datum":395.3,"type":"quantitative","axis":null},"text":{"field":"t"}}},
{"data":{"values":[{"t":"3"}]},
 "mark":{"type":"text","font":"Liberation Sans","fontSize":40,"align":"left","baseline":"alphabetic","color":"#ff0000"},
 "encoding":{"x":{"datum":0.0915,"type":"quantitative","axis":null},"y":{"datum":384.8,"type":"quantitative","axis":null},"text":{"field":"t"}}},
{"data":{"values":[{"t":"m"}]},
 "mark":{"type":"text","font":"Liberation Serif","fontStyle":"italic","fontSize":50,"align":"left","baseline":"alphabetic","color":"#000"},
 "encoding":{"x":{"datum":-0.2077,"type":"quantitative","axis":null},"y":{"datum":595.3,"type":"quantitative","axis":null},"text":{"field":"t"}}},
{"data":{"values":[{"t":"χ̃"}]},
 "mark":{"type":"text","font":"DejaVu Serif","fontStyle":"italic","fontSize":44,"align":"left","baseline":"alphabetic","color":"#000"},
 "encoding":{"x":{"datum":-0.1523,"type":"quantitative","axis":null},"y":{"datum":588.0,"type":"quantitative","axis":null},"text":{"field":"t"}}},
{"data":{"values":[{"t":"0"}]},
 "mark":{"type":"text","font":"Liberation Sans","fontSize":30,"align":"left","baseline":"alphabetic","color":"#000"},
 "encoding":{"x":{"datum":-0.0968,"type":"quantitative","axis":null},"y":{"datum":594.7,"type":"quantitative","axis":null},"text":{"field":"t"}}},
{"data":{"values":[{"t":"i"}]},
 "mark":{"type":"text","font":"Liberation Serif","fontStyle":"italic","fontSize":32,"align":"left","baseline":"alphabetic","color":"#000"},
 "encoding":{"x":{"datum":-0.0939,"type":"quantitative","axis":null},"y":{"datum":586.7,"type":"quantitative","axis":null},"text":{"field":"t"}}},
{"data":{"values":[{"t":"χ̃"}]},
 "mark":{"type":"text","font":"DejaVu Serif","fontStyle":"italic","fontSize":46,"align":"left","baseline":"alphabetic","color":"#000"},
 "encoding":{"x":{"datum":0.9032,"type":"quantitative","axis":null},"y":{"datum":307.9,"type":"quantitative","axis":null},"text":{"field":"t"}}},
{"data":{"values":[{"t":"0"}]},
 "mark":{"type":"text","font":"Liberation Sans","fontSize":38,"align":"left","baseline":"alphabetic","color":"#000"},
 "encoding":{"x":{"datum":0.954,"type":"quantitative","axis":null},"y":{"datum":310.8,"type":"quantitative","axis":null},"text":{"field":"t"}}},
{"data":{"values":[{"t":"i"}]},
 "mark":{"type":"text","font":"Liberation Serif","fontStyle":"italic","fontSize":34,"align":"left","baseline":"alphabetic","color":"#000"},
 "encoding":{"x":{"datum":0.958,"type":"quantitative","axis":null},"y":{"datum":303.6,"type":"quantitative","axis":null},"text":{"field":"t"}}}
]
}
